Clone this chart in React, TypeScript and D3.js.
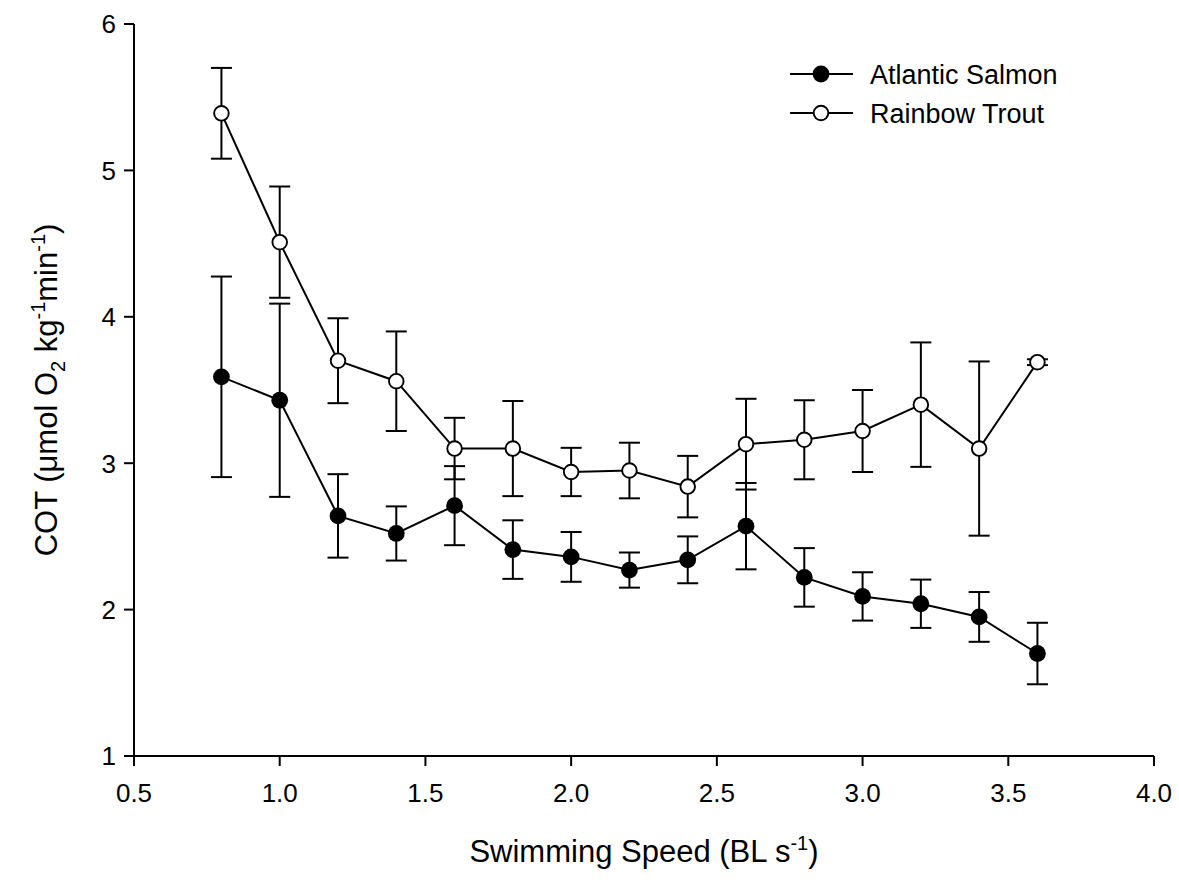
import React from "react";
import * as d3 from "d3";

// swimming speed (BL s-1)
const speeds = [0.8, 1.0, 1.2, 1.4, 1.6, 1.8, 2.0, 2.2, 2.4, 2.6, 2.8, 3.0, 3.2, 3.4, 3.6];

// Atlantic Salmon COT and SE
const salmonCot = [3.59, 3.43, 2.64, 2.52, 2.71, 2.41, 2.36, 2.27, 2.34, 2.57, 2.22, 2.09, 2.04, 1.95, 1.7];
const salmonErr = [0.685, 0.66, 0.285, 0.185, 0.27, 0.2, 0.17, 0.12, 0.16, 0.295, 0.2, 0.165, 0.165, 0.17, 0.21];

// Rainbow Trout COT and SE
const troutCot = [5.39, 4.51, 3.7, 3.56, 3.1, 3.1, 2.94, 2.95, 2.84, 3.13, 3.16, 3.22, 3.4, 3.1, 3.69];
const troutErr = [0.31, 0.38, 0.29, 0.34, 0.21, 0.325, 0.165, 0.19, 0.21, 0.31, 0.27, 0.28, 0.425, 0.595, 0.02];

const xTicks = [0.5, 1.0, 1.5, 2.0, 2.5, 3.0, 3.5, 4.0];
const yTicks = [1, 2, 3, 4, 5, 6];

const W = 1179;
const H = 895;
const margin = { top: 24, right: 25, bottom: 139, left: 134 };
const FONT = "'Liberation Sans', Arial, sans-serif";

const x = d3.scaleLinear().domain([0.5, 4.0]).range([margin.left, W - margin.right]);
const y = d3.scaleLinear().domain([1, 6]).range([H - margin.bottom, margin.top]);

const series = [
  { name: "Atlantic Salmon", values: salmonCot, errs: salmonErr, fill: "#000" },
  { name: "Rainbow Trout", values: troutCot, errs: troutErr, fill: "#fff" },
];

const lineGen = d3
  .line<number>()
  .x((_, i) => x(speeds[i]))
  .y((d) => y(d));

const Marker = ({ cx, cy, fill }: { cx: number; cy: number; fill: string }) =>
  fill === "#000" ? (
    <circle cx={cx} cy={cy} r={8.4} fill="#000" />
  ) : (
    <circle cx={cx} cy={cy} r={7.3} fill="#fff" stroke="#000" strokeWidth={1.9} />
  );

export default function App() {
  const y0 = y(1);
  const capW = 10.5;
  return (
    <svg
      width={W}
      height={H}
      style={{ position: "absolute", left: 0, top: 0, background: "#fff" }}
      fontFamily={FONT}
    >
      <rect width={W} height={H} fill="#fff" />

      {/* axes */}
      <line x1={x(0.5)} x2={x(0.5)} y1={y(6)} y2={y0 + 10} stroke="#000" strokeWidth={2} />
      <line x1={x(0.5) - 10} x2={x(4.0)} y1={y0} y2={y0} stroke="#000" strokeWidth={2} />
      {yTicks.map((t) => (
        <g key={"y" + t}>
          <line x1={x(0.5) - 10} x2={x(0.5)} y1={y(t)} y2={y(t)} stroke="#000" strokeWidth={2} />
          <text x={x(0.5) - 18} y={y(t)} dy="0.36em" textAnchor="end" fontSize={26}>
            {t}
          </text>
        </g>
      ))}
      {xTicks.map((t) => (
        <g key={"x" + t}>
          <line x1={x(t)} x2={x(t)} y1={y0} y2={y0 + 10} stroke="#000" strokeWidth={2} />
          <text x={x(t)} y={y0 + 46} textAnchor="middle" fontSize={26}>
            {t.toFixed(1)}
          </text>
        </g>
      ))}

      {/* axis titles */}
      <text x={(x(0.5) + x(4.0)) / 2} y={862} textAnchor="middle" fontSize={31}>
        Swimming Speed (BL s
        <tspan fontSize={20} dy={-12}>-1</tspan>
        <tspan dy={12}>)</tspan>
      </text>
      <text
        transform={`translate(57, ${(y(1) + y(6)) / 2}) rotate(-90)`}
        textAnchor="middle"
        fontSize={31}
      >
        COT (μmol O
        <tspan fontSize={20} dy={8}>2</tspan>
        <tspan dy={-8}> kg</tspan>
        <tspan fontSize={20} dy={-12}>-1</tspan>
        <tspan dy={12}>min</tspan>
        <tspan fontSize={20} dy={-12}>-1</tspan>
        <tspan dy={12}>)</tspan>
      </text>

      {/* data */}
      {series.map((s) => (
        <g key={s.name}>
          {s.values.map((v, i) => (
            <g key={i} stroke="#000" strokeWidth={2}>
              <line x1={x(speeds[i])} x2={x(speeds[i])} y1={y(v - s.errs[i])} y2={y(v + s.errs[i])} />
              <line x1={x(speeds[i]) - capW} x2={x(speeds[i]) + capW} y1={y(v + s.errs[i])} y2={y(v + s.errs[i])} />
              <line x1={x(speeds[i]) - capW} x2={x(speeds[i]) + capW} y1={y(v - s.errs[i])} y2={y(v - s.errs[i])} />
            </g>
          ))}
          <path d={lineGen(s.values) ?? ""} fill="none" stroke="#000" strokeWidth={2} />
          {s.values.map((v, i) => (
            <Marker key={i} cx={x(speeds[i])} cy={y(v)} fill={s.fill} />
          ))}
        </g>
      ))}

      {/* legend */}
      {series.map((s, i) => {
        const ly = 74 + i * 39;
        return (
          <g key={"leg" + s.name}>
            <line x1={790} x2={853} y1={ly} y2={ly} stroke="#000" strokeWidth={2} />
            <Marker cx={821} cy={ly} fill={s.fill} />
            <text x={870} y={ly} dy="0.36em" fontSize={27}>
              {s.name}
            </text>
          </g>
        );
      })}
    </svg>
  );
}
